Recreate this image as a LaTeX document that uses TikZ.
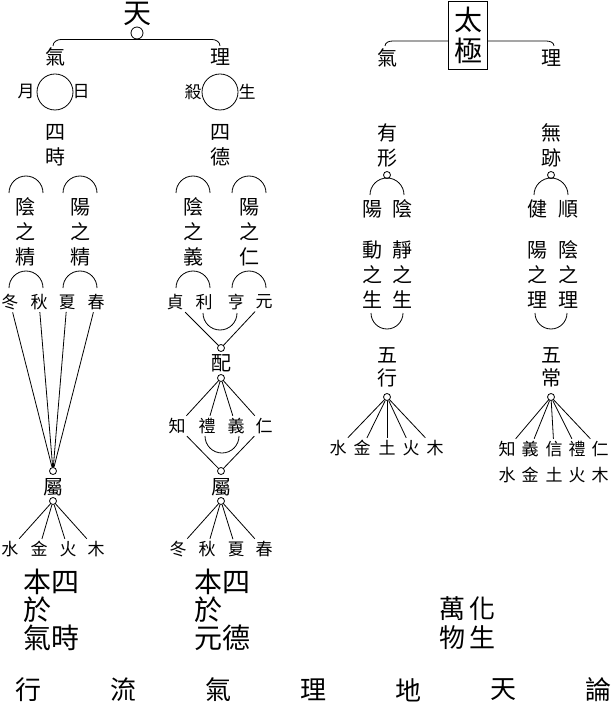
\documentclass[tikz,border=0pt]{standalone}
\usepackage{fontspec}
\usetikzlibrary{calc}
\newfontfamily\cjk{Noto Sans CJK TC}
\tikzset{
  zi/.style={font=\cjk\fontsize{20}{25}\selectfont,inner sep=1pt,align=center},
  xiao/.style={font=\cjk\fontsize{17}{26}\selectfont,inner sep=2pt,align=center},
  da/.style={font=\cjk\fontsize{28}{28}\selectfont,inner sep=0pt,align=left},
  zhong/.style={font=\cjk\fontsize{26}{29}\selectfont,inner sep=0pt,align=center},
  quan/.style={circle,draw,fill=white,inner sep=0pt,minimum size=7pt},
  yuan/.style={circle,draw,inner sep=0pt,minimum size=36pt},
}
\begin{document}
\begin{tikzpicture}[x=1pt,y=-1pt,line width=.8pt]
\useasboundingbox (0,0) rectangle (610,708);

% left half: tian
\node[zi,font=\cjk\fontsize{28}{28}\selectfont] (tian) at (137,14){天};
\node[circle,draw,inner sep=0pt,minimum size=12pt] (tianO) at (137,33){};
\coordinate (bA) at (53,46);
\coordinate (bB) at (220,46);
\draw (bA) to[out=90,in=180] ++(8,-6.5) -- (tianO.south) -- ($(bB)+(-8,-6.5)$) to[out=0,in=90] (bB);
\node[zi] (qiA) at (55,57){氣};
\node[zi] (liA) at (220,57){理};
\node[yuan] (riyue) at (55,92){};
\node[xiao] (yue) at (26,92){月};
\node[xiao] (ri) at (81,92){日};
\node[yuan] (shasheng) at (220,92){};
\node[xiao] (sha) at (193,92){殺};
\node[xiao] (sheng) at (247,92){生};
\node[zi] (sishi) at (55,145){四\\時};
\node[zi] (side) at (220,145){四\\德};
\foreach \x in {26,80,193,249}
{
    \draw (\x-17,193) arc[start angle=180,end angle=0,radius=17pt];
    \draw (\x-17,288) arc[start angle=180,end angle=0,radius=17pt];
}
\node[zi] (yinjing) at (26,232){陰\\之\\精};
\node[zi] (yangjing) at (80,232){陽\\之\\精};
\node[zi] (yinyi) at (193,232){陰\\之\\義};
\node[zi] (yangren) at (249,232){陽\\之\\仁};

% si shi
\node[quan] (shuA) at (53,471){};
\node[zi] (shuAt) at (53,487){屬};
\node[quan] (shuAb) at (53,501){};
\foreach \n/\x/\c in {dongA/10/冬,qiuA/39/秋,xiaA/67/夏,chunA/96/春}
{
    \node[xiao] (\n) at (\x,302){\c};
    \draw (\n) -- (shuA);
}
\foreach \n/\x/\c in {shuiA/10/水,jinA/39/金,huoA/68/火,muA/96/木}
{
    \node[xiao] (\n) at (\x,549){\c};
    \draw (shuAb) -- (\n);
}
\node[da] (benA) at (51,610){本四\\於\\氣時};

% si de
\foreach \n/\x/\c in {zhen/175/貞,li/204/利,heng/236/亨,yuanA/264/元}
{
    \node[xiao] (\n) at (\x,302){\c};
}
\draw (203,313) arc[start angle=180,end angle=360,radius=17pt];
\node[quan] (peiA) at (221,348){};
\node[zi] (pei) at (221,363){配};
\node[quan] (peiB) at (221,378){};
\draw (zhen) -- (peiA) -- (yuanA);
\foreach \n/\x/\c in {zhi/177/知,liB/207/禮,yiB/236/義,ren/264/仁}
{
    \node[xiao] (\n) at (\x,426){\c};
    \draw (peiB) -- (\n);
}
\draw (205,436) arc[start angle=180,end angle=360,radius=17pt];
\node[quan] (shuB) at (221,471){};
\node[zi] (shuBt) at (221,487){屬};
\node[quan] (shuBb) at (221,501){};
\draw (zhi) -- (shuB) -- (ren);
\foreach \n/\x/\c in {dongB/178/冬,qiuB/207/秋,xiaB/236/夏,chunB/264/春}
{
    \node[xiao] (\n) at (\x,549){\c};
    \draw (shuBb) -- (\n);
}
\node[da] (benB) at (222,610){本四\\於\\元德};

% right half: taiji
\node[draw,font=\cjk\fontsize{28}{31}\selectfont,align=center,inner sep=0pt,
      minimum width=39pt,minimum height=68pt] (taiji) at (468,35){太\\極};
\coordinate (cA) at (385,46);
\coordinate (cB) at (554,46);
\draw (taiji.west |- 0,41) -- ($(cA)+(8,-5)$) to[out=180,in=90] (cA);
\draw (taiji.east |- 0,41) -- ($(cB)+(-8,-5)$) to[out=0,in=90] (cB);
\node[zi] (qiB) at (387,58){氣};
\node[zi] (liC) at (551,58){理};
\node[zi] (youxing) at (387,145){有\\形};
\node[zi] (wuji) at (551,145){無\\跡};
\node[quan] (youO) at (387,175){};
\node[quan] (wujiO) at (551,175){};
\foreach \x in {387,551}
{
    \draw (\x-17,195) arc[start angle=180,end angle=0,radius=17pt];
    \draw (\x-16,313) arc[start angle=180,end angle=360,radius=16pt];
}
\node[zi] (yangB) at (372,209){陽};
\node[zi] (yinB) at (402,209){陰};
\node[zi] (jian) at (537,209){健};
\node[zi] (shun) at (568,209){順};
\node[zi] (dong) at (372,275){動\\之\\生};
\node[zi] (jing) at (402,275){靜\\之\\生};
\node[zi] (yangli) at (537,275){陽\\之\\理};
\node[zi] (yinli) at (568,275){陰\\之\\理};
\node[zi,font=\cjk\fontsize{20}{23}\selectfont] (wuxing) at (387,367){五\\行};
\node[zi,font=\cjk\fontsize{20}{23}\selectfont] (wuchang) at (551,367){五\\常};
\node[quan] (wuxingO) at (387,397){};
\node[quan] (wuchangO) at (551,397){};
\foreach \n/\x/\c in {shuiB/338/水,jinB/362/金,tuB/387/土,huoB/411/火,muB/435/木}
{
    \node[xiao] (\n) at (\x,448){\c};
    \draw (wuxingO) -- (\n);
}
\foreach \n/\x/\c/\d in {zhiC/507/知/水,yiC/530/義/金,xin/554/信/土,liD/577/禮/火,renC/600/仁/木}
{
    \node[xiao] (\n) at (\x,449){\c};
    \node[xiao] (\n X) at (\x,475){\d};
    \draw (wuchangO) -- (\n);
}
\node[zhong] (wanwu) at (452,623){萬\\物};
\node[zhong] (huasheng) at (482,623){化\\生};

% bottom line
\foreach \c [count=\i from 0] in {行,流,氣,理,地,天,論}
{
    \node[zhong] (lun\i) at (28+95*\i,690){\c};
}
\end{tikzpicture}
\end{document}
